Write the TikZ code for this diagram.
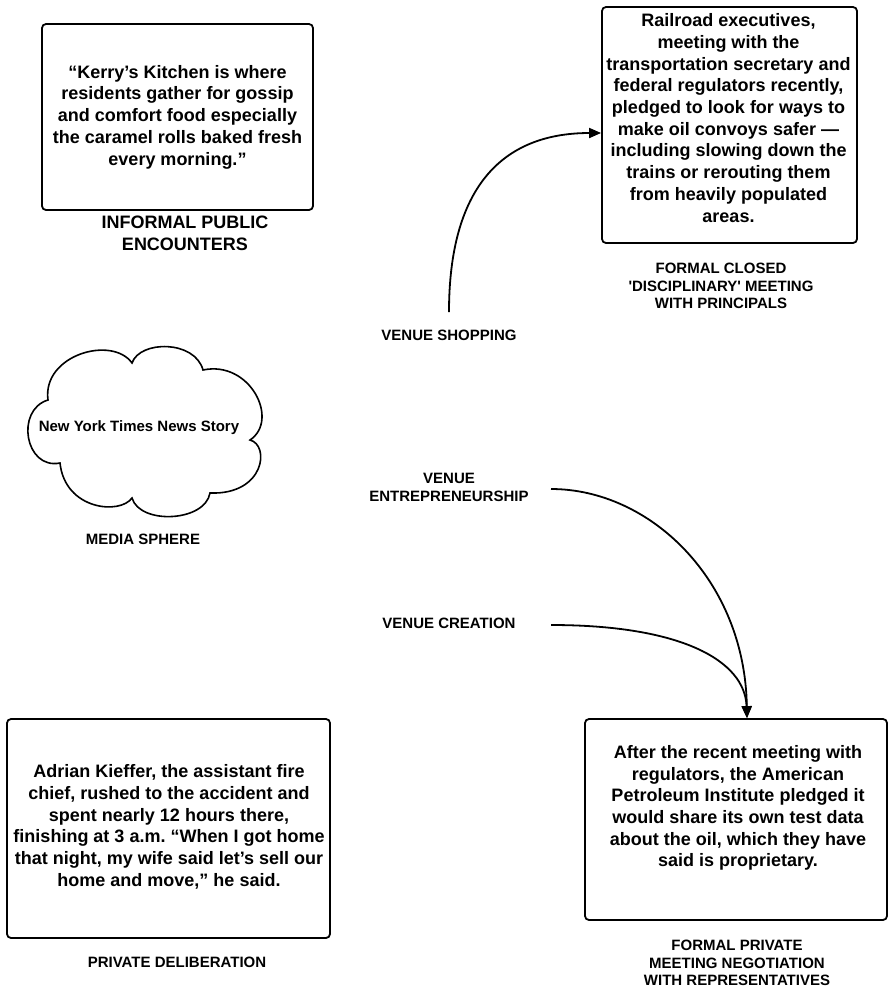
\documentclass[tikz,border=0pt]{standalone}
\usepackage{fontspec}
\setmainfont{Liberation Sans}
\usetikzlibrary{arrows.meta}
\frenchspacing
\begin{document}
\begin{tikzpicture}[x=1pt,y=-1pt,
  box/.style={draw,line width=1.8pt,rounded corners=4pt,inner sep=0pt},
  boxtext/.style={align=center,font=\fontsize{18}{21.7}\selectfont\bfseries,inner sep=0pt},
  biglbl/.style={align=center,font=\fontsize{18}{22}\selectfont\bfseries,inner sep=0pt},
  lbl/.style={align=center,font=\fontsize{15}{17.5}\selectfont\bfseries,inner sep=0pt},
  conn/.style={line width=1.8pt,-{Triangle[length=12pt,width=10pt]}}]
\useasboundingbox[fill=white] (0,0) rectangle (889,989);

% boxes
\node[box,minimum width=271pt,minimum height=186pt] (tl) at (177.5,117) {};
\node[box,minimum width=255pt,minimum height=236pt] (tr) at (729.5,125) {};
\node[box,minimum width=323pt,minimum height=219pt] (bl) at (168.5,828.5) {};
\node[box,minimum width=302pt,minimum height=201pt] (br) at (736,819.5) {};

% box texts
\node[boxtext] (tltext) at (177.5,117) {“Kerry’s Kitchen is where\\residents gather for gossip\\and comfort food especially\\the caramel rolls baked fresh\\every morning.”};
\node[boxtext] (trtext) at (728.5,118) {Railroad executives,\\meeting with the\\transportation secretary and\\federal regulators recently,\\pledged to look for ways to\\make oil convoys safer —\\including slowing down the\\trains or rerouting them\\from heavily populated\\areas.};
\node[boxtext] (bltext) at (169,827) {Adrian Kieffer, the assistant fire\\chief, rushed to the accident and\\spent nearly 12 hours there,\\finishing at 3 a.m. “When I got home\\that night, my wife said let’s sell our\\home and move,” he said.};
\node[boxtext] (brtext) at (738,808) {After the recent meeting with\\regulators, the American\\Petroleum Institute pledged it\\would share its own test data\\about the oil, which they have\\said is proprietary.};

% cloud
\draw[line width=1.6pt] (48,400)
  .. controls (42,355) and (112,335) .. (132,363)
  .. controls (140,340) and (195,340) .. (203,370)
  .. controls (250,360) and (280,420) .. (250,440)
  .. controls (270,445) and (265,495) .. (210,493)
  .. controls (205,522) and (140,525) .. (132,498)
  .. controls (120,515) and (65,510) .. (60,463)
  .. controls (25,470) and (15,410) .. (48,400) -- cycle;
\node[lbl] (cloudtext) at (139,428) {New York Times News Story};

% sphere labels
\node[biglbl] (tllbl) at (185,233) {INFORMAL PUBLIC\\ENCOUNTERS};
\node[lbl] (trlbl) at (721,286) {FORMAL CLOSED\\\textquotesingle DISCIPLINARY\textquotesingle{} MEETING\\WITH PRINCIPALS};
\node[lbl] (medialbl) at (143,539) {MEDIA SPHERE};
\node[lbl] (bllbl) at (177,962) {PRIVATE DELIBERATION};
\node[lbl] (brlbl) at (737,963) {FORMAL PRIVATE\\MEETING NEGOTIATION\\WITH REPRESENTATIVES};

% venue labels
\node[lbl] (shop) at (449,335) {VENUE SHOPPING};
\node[lbl] (entre) at (449,487.5) {VENUE\\ENTREPRENEURSHIP};
\node[lbl] (create) at (449,623) {VENUE CREATION};

% connectors
\coordinate (s1) at (449,312);
\coordinate (s2) at (551,489);
\coordinate (s3) at (551,625);
\draw[conn] (s1) .. controls (449,190) and (500,133) .. ([yshift=-8pt]tr.west);
\draw[conn] (s2) .. controls (650,489) and (745,580) .. ([xshift=11pt]br.north);
\draw[conn] (s3) .. controls (680,625) and (745,660) .. ([xshift=11pt]br.north);
\end{tikzpicture}
\end{document}
